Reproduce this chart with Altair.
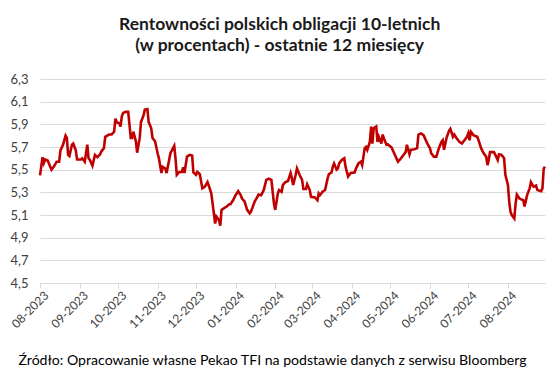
import altair as alt
import pandas as pd

start_date = "2023-08-01"
day_offsets = [0,2,3,4,6,9,11,13,15,16,18,20,21,22,23,25,26,28,29,32,33,35,37,38,39,41,43,45,47,48,
               50,51,54,56,58,59,60,62,63,64,65,67,69,71,72,73,75,76,78,79,81,82,
               84,85,87,88,90,92,93,95,96,98,99,101,102,105,106,107,109,111,112,113,115,117,119,120,
               122,123,125,127,129,131,132,134,136,137,138,140,141,142,144,146,148,149,151,153,155,157,
               158,160,162,164,
               165,168,170,171,173,175,177,179,181,182,183,184,186,187,189,190,192,194,196,197,198,200,
               201,203,205,206,208,209,211,212,215,217,218,219,221,223,225,226,228,229,230,232,233,234,
               236,238,239,241,
               243,246,247,249,251,252,254,255,256,258,259,260,261,263,264,265,267,268,269,271,272,275,
               277,279,280,282,284,286,287,289,290,293,295,296,298,300,303,305,306,308,310,312,314,315,
               316,318,320,321,323,324,326,328,330,332,334,335,336,337,339,342,343,345,347,349,350,351,
               352,355,356,358,359,361,363,364,366,367,368,369,371,372,373,375,376,378,379,381,383,384,
               386,388,389,392,393,394,395]

yields = [5.45,5.61,5.56,5.59,5.58,5.50,5.53,5.57,5.57,5.67,5.72,5.80,5.78,5.63,5.62,5.72,5.73,5.67,5.59,5.59,
          5.60,5.57,5.72,5.60,5.585,5.535,5.63,5.61,5.635,5.66,5.69,5.79,5.81,5.81,5.835,5.95,5.92,5.91,5.88,5.97,
          6.00,6.01,6.01,5.78,5.78,5.835,5.75,5.65,5.78,5.92,5.98,6.03,
          6.035,5.92,5.865,5.78,5.75,5.645,5.60,5.47,5.525,5.51,5.47,5.585,5.645,5.71,5.60,5.455,5.48,5.48,
          5.52,5.47,5.615,5.63,5.625,5.475,5.455,5.48,5.46,5.335,5.35,5.39,5.36,5.29,5.115,5.025,5.085,5.055,
          5.005,5.145,5.16,5.175,5.195,5.195,5.23,5.275,5.31,5.275,5.245,5.22,5.145,5.115,
          5.13,5.22,5.26,5.28,5.275,5.32,5.41,5.42,5.41,5.305,5.20,5.145,5.29,5.32,5.305,5.365,5.39,5.40,
          5.47,5.425,5.365,5.455,5.51,5.455,5.41,5.33,5.33,5.37,5.32,5.26,5.255,5.23,5.29,5.275,5.305,5.32,
          5.425,5.46,5.475,5.525,5.555,5.50,5.51,5.555,5.585,5.60,5.525,5.44,
          5.47,5.475,5.505,5.555,5.57,5.54,5.69,5.70,5.675,5.745,5.88,5.73,5.865,5.88,5.745,5.79,5.73,5.81,
          5.775,5.72,5.725,5.695,5.645,5.595,5.57,5.595,5.625,5.655,5.72,5.635,5.675,5.68,5.69,5.81,5.82,
          5.805,5.73,5.69,5.645,5.615,5.615,5.69,5.745,5.76,5.675,5.78,5.845,5.86,5.79,5.81,5.775,5.745,
          5.73,5.76,5.79,5.82,5.76,5.835,5.805,5.79,5.76,5.69,5.645,5.615,5.54,5.585,5.655,5.655,5.635,
          5.585,5.635,5.63,5.60,5.455,5.365,5.22,5.13,5.10,5.07,5.20,5.28,5.245,5.24,5.23,5.175,5.275,
          5.335,5.39,5.35,5.36,5.32,5.31,5.335,5.51,5.525]

y_ticks = [4.5, 4.7, 4.9, 5.1, 5.3, 5.5, 5.7, 5.9, 6.1, 6.3]
month_ticks = [(2023, m) for m in range(8, 13)] + [(2024, m) for m in range(1, 9)]

title_lines = ["Rentowności polskich obligacji 10-letnich", "(w procentach) - ostatnie 12 miesięcy"]
source_text = "Źródło: Opracowanie własne Pekao TFI na podstawie danych z serwisu Bloomberg"

dates = pd.Timestamp(start_date) + pd.to_timedelta(day_offsets, unit="D")
df = pd.DataFrame({"date": dates, "value": yields})

tick_values = [alt.DateTime(year=y, month=m, date=1) for y, m in month_ticks]

chart = alt.Chart(df).mark_line(color="#c00000", strokeWidth=2.6).encode(
    x=alt.X(
        "date:T",
        scale=alt.Scale(domain=[alt.DateTime(year=2023, month=8, date=1),
                                alt.DateTime(year=2024, month=8, date=30)]),
        axis=alt.Axis(
            values=tick_values, format="%m-%Y", labelAngle=-45, grid=False,
            labelOverlap=False, labelAlign="right", labelBaseline="middle",
            labelOffset=6,
            domainColor="#d9d9d9", tickColor="#d9d9d9", tickSize=5,
            labelColor="#404040", labelFontSize=12, labelFont="Lato", labelPadding=5,
            title=source_text, titleX=-22, titleY=77, titleAlign="left",
            titleBaseline="middle", titleFontWeight="normal", titleFontSize=14.1,
            titleFont="Lato", titleColor="#000000",
        ),
    ),
    y=alt.Y(
        "value:Q",
        scale=alt.Scale(domain=[4.5, 6.3], nice=False, zero=False),
        axis=alt.Axis(
            values=y_ticks,
            labelExpr="replace(format(datum.value, '.1f'), '.', ',')",
            domain=False, ticks=False, gridColor="#d9d9d9", gridWidth=1,
            labelColor="#404040", labelFontSize=13, labelFont="Lato", labelPadding=12,
            title=None,
        ),
    ),
).properties(
    width=505,
    height=204,
    autosize=alt.AutoSizeParams(type="none"),
    padding={"left": 32, "top": 71, "right": 3, "bottom": 86},
    title=alt.TitleParams(
        text=title_lines, fontSize=17.5, font="Lato", fontWeight="bold",
        anchor="middle", frame="bounds", lineHeight=21, offset=19, color="#1a1a1a",
    ),
).configure_view(strokeWidth=0)

chart.save("out.html", embed_options={"renderer": "svg", "actions": False})
